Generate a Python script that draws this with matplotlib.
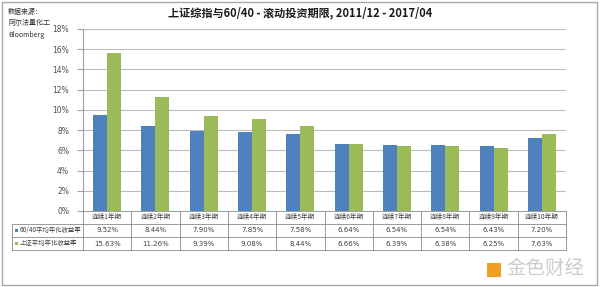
import matplotlib
matplotlib.use("Agg")
import matplotlib.pyplot as plt
from matplotlib.patches import Rectangle
from matplotlib.lines import Line2D
import numpy as np

plt.rcParams['font.family'] = ['Noto Sans CJK SC', 'DejaVu Sans']

categories = ["连续1年期", "连续2年期", "连续3年期", "连续4年期", "连续5年期",
              "连续6年期", "连续7年期", "连续8年期", "连续9年期", "连续10年期"]
series_names = ["60/40平均年化收益率", "上证平均年化收益率"]
s6040 = [9.52, 8.44, 7.90, 7.85, 7.58, 6.64, 6.54, 6.54, 6.43, 7.20]
sse = [15.63, 11.26, 9.39, 9.08, 8.44, 6.66, 6.39, 6.38, 6.25, 7.63]
yticks = [0, 2, 4, 6, 8, 10, 12, 14, 16, 18]
title = "上证综指与60/40 - 滚动投资期限, 2011/12 - 2017/04"
source_lines = ["数据来源：", "阿尔法量化工", "Bloomberg"]

colors = ["#4F81BD", "#9BBB59"]
W, H = 600, 287
fig = plt.figure(figsize=(W / 100, H / 100), dpi=100)
fig.patch.set_facecolor("white")

def fx(x):
    return x / W

def fy(y):
    return 1 - y / H

# outer border
fig.add_artist(Rectangle((fx(2), fy(285)), fx(595), 283 / H, transform=fig.transFigure,
                         fill=False, edgecolor="#a8a8a8", lw=1.0))

x0, x1, ytop, ybot = 83, 566, 29, 211
ax = fig.add_axes([fx(x0), fy(ybot), fx(x1 - x0), (ybot - ytop) / H])
n = len(categories)
x = np.arange(n)
bw = 0.29
ax.bar(x - bw / 2, s6040, width=bw, color=colors[0], edgecolor="none")
ax.bar(x + bw / 2, sse, width=bw, color=colors[1], edgecolor="none")
ax.set_xlim(-0.5, n - 0.5)
ax.set_ylim(0, 18)
ax.set_yticks(yticks)
ax.set_yticklabels([f"{v}%" for v in yticks], fontsize=5.5, color="#505050",
                   family=["DejaVu Sans"])
ax.tick_params(axis="y", length=4, color="#a0a0a0", pad=6)
ax.set_xticks([])
ax.grid(axis="y", color="#bcbcbc", lw=0.8)
ax.set_axisbelow(True)
for s in ["top", "right", "bottom"]:
    ax.spines[s].set_visible(False)
ax.spines["left"].set_color("#a0a0a0")
ax.spines["left"].set_linewidth(0.8)

fig.text(fx(300), fy(13), title, ha="center", va="center", fontsize=8, fontweight="bold",
         color="#1a1a1a")

for i, t in enumerate(source_lines):
    fig.text(fx(8), fy(12 + i * 11.5), t, ha="left", va="center", fontsize=5,
             color="#303030")

# table
row_lines = [211, 223.5, 237, 250]
lc = "#8a8a8a"
cw = (x1 - x0) / n
fig.add_artist(Line2D([fx(x0), fx(x1)], [fy(row_lines[0])] * 2, color=lc, lw=0.6))
for yy in row_lines[1:]:
    fig.add_artist(Line2D([fx(12), fx(x1)], [fy(yy)] * 2, color=lc, lw=0.6))
for i in range(n + 1):
    xx = x0 + i * cw
    fig.add_artist(Line2D([fx(xx)] * 2, [fy(row_lines[0]), fy(row_lines[-1])], color=lc, lw=0.6))
fig.add_artist(Line2D([fx(12)] * 2, [fy(row_lines[1]), fy(row_lines[-1])], color=lc, lw=0.6))

for i, c in enumerate(categories):
    fig.text(fx(x0 + (i + 0.5) * cw), fy((row_lines[0] + row_lines[1]) / 2), c,
             ha="center", va="center", fontsize=4.8, color="#404040")
for r, vals in enumerate([s6040, sse]):
    yc = (row_lines[r + 1] + row_lines[r + 2]) / 2
    for i, v in enumerate(vals):
        fig.text(fx(x0 + (i + 0.5) * cw), fy(yc), f"{v:.2f}%", ha="center", va="center",
                 fontsize=5, color="#404040", family=["DejaVu Sans"])
    fig.add_artist(Rectangle((fx(14.5), fy(yc + 1.5)), fx(3), 3 / H, transform=fig.transFigure,
                             facecolor=colors[r], edgecolor="none"))
    fig.text(fx(20), fy(yc), series_names[r], ha="left", va="center", fontsize=4.6,
             color="#404040")

# watermark
fig.add_artist(Rectangle((fx(487), fy(277)), fx(14), 14 / H, transform=fig.transFigure,
                         facecolor="#F0A020", edgecolor="none"))
fig.text(fx(506), fy(268), "金色财经", ha="left", va="center", fontsize=14,
         color="#cccccc")

fig.savefig("out.png", dpi=100)
